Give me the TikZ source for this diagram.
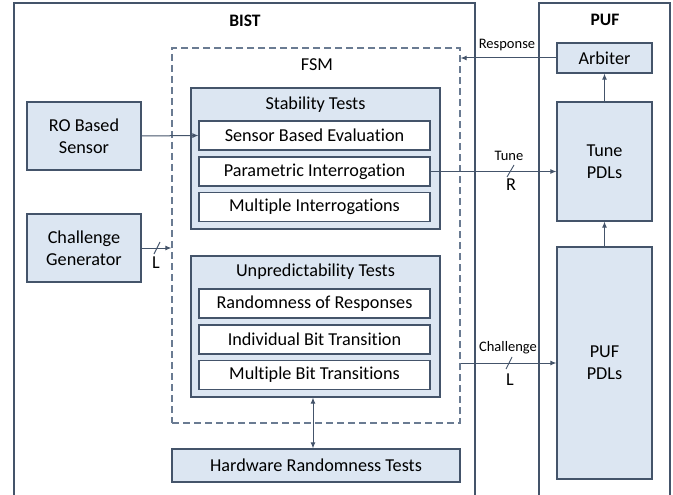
\documentclass[tikz,border=0pt]{standalone}
\usepackage{fontspec}
\setmainfont[Ligatures=NoCommon]{Carlito}
\usetikzlibrary{arrows.meta}
\definecolor{bfill}{HTML}{DCE6F2}
\definecolor{bline}{HTML}{44546A}
\definecolor{dline}{HTML}{6A7B92}
\begin{document}
\begin{tikzpicture}[x=1pt,y=-1pt,
  mainfont/.style={font=\fontsize{18.2}{22}\selectfont},
  smallfont/.style={font=\fontsize{14.5}{16}\selectfont},
  outer/.style={draw=bline,line width=2.4pt,rectangle,inner sep=0pt},
  group/.style={draw=bline,fill=bfill,line width=1.2pt,rectangle,inner sep=0pt},
  item/.style={draw=bline,fill=white,line width=1.2pt,rectangle,inner sep=0pt,mainfont,minimum width=231pt,minimum height=29pt},
  blk/.style={draw=bline,fill=bfill,line width=1.2pt,rectangle,inner sep=0pt,mainfont,align=center},
  dashbox/.style={draw=dline,line width=1.2pt,dash pattern=on 7pt off 4pt,rectangle,inner sep=0pt},
  arr/.style={draw=bline,line width=1pt,-{Latex[length=6pt,width=5pt]}},
  biarr/.style={draw=bline,line width=1pt,{Latex[length=6pt,width=5pt]}-{Latex[length=6pt,width=5pt]}},
  slash/.style={draw=bline,line width=0.9pt},
  lbl/.style={inner sep=0pt}]
\clip (0,0) rectangle (673,495);
\fill[white] (0,0) rectangle (673,495);
% outer boxes
\node[outer,minimum width=461pt,minimum height=507pt] (bist) at (244.5,256.5) {};
\node[lbl,font=\fontsize{17.5}{20}\selectfont\bfseries] (bistl) at (245,21) {BIST};
\node[outer,minimum width=131pt,minimum height=507pt] (puf) at (604.5,256.5) {};
\node[lbl,font=\fontsize{17.5}{20}\selectfont\bfseries] (pufl) at (605,20) {PUF};
% FSM
\node[dashbox,minimum width=288pt,minimum height=375pt] (fsm) at (316,235.5) {};
\node[lbl,mainfont] (fsml) at (317,65) {FSM};
% Stability
\node[group,minimum width=249pt,minimum height=141pt] (stab) at (315.5,158.5) {};
\node[lbl,mainfont] (stabl) at (315.5,105) {Stability Tests};
\node[item] (sbe) at (314.5,135.5) {Sensor Based Evaluation};
\node[item] (pi) at (314.5,171.5) {Parametric Interrogation};
\node[item] (mi) at (314.5,207) {Multiple Interrogations};
% Unpredictability
\node[group,minimum width=249pt,minimum height=141pt] (unp) at (315.5,326.5) {};
\node[lbl,mainfont] (unpl) at (315.5,272) {Unpredictability Tests};
\node[item] (rr) at (314.5,303.5) {Randomness of Responses};
\node[item] (ibt) at (314.5,339.5) {Individual Bit Transition};
\node[item] (mbt) at (314.5,375) {Multiple Bit Transitions};
% Hardware
\node[blk,minimum width=288pt,minimum height=33pt] (hw) at (316,465.5) {Hardware Randomness Tests};
% left blocks
\node[blk,minimum width=114pt,minimum height=68pt] (ro) at (84,136) {RO Based\\Sensor};
\node[blk,minimum width=114pt,minimum height=68pt] (cg) at (84,248) {Challenge\\Generator};
% PUF blocks
\node[blk,minimum width=95pt,minimum height=30pt] (arb) at (604.5,58) {Arbiter};
\node[blk,minimum width=95pt,minimum height=119pt] (tune) at (604.5,161.5) {Tune\\PDLs};
\node[blk,minimum width=95pt,minimum height=232pt] (pdl) at (604.5,363) {PUF\\PDLs};
% connectors
\draw[arr] (ro.east) -- (sbe.west);
\draw[arr] (cg.east) -- (cg.east -| fsm.west);
\draw[arr] (arb.west) -- (arb.west -| fsm.east);
\draw[arr] (pi.east) -- (pi.east -| tune.west);
\draw[arr] (pdl.west -| fsm.east) -- (pdl.west);
\draw[arr] (tune.north) -- (arb.south);
\draw[arr] (pdl.north) -- (tune.south);
\draw[biarr] ([xshift=-2.5pt]unp.south) -- ([xshift=-2.5pt]unp.south |- hw.north);
% labels and slashes
\node[lbl,smallfont] (resp) at (507,45) {Response};
\draw[slash] (154,254) -- (160,242);
\node[lbl,mainfont] (cgL) at (156,263) {L};
\node[lbl,smallfont] (tunel) at (509,156) {Tune};
\draw[slash] (507,177) -- (514,165);
\node[lbl,mainfont] (tuneR) at (511,185) {R};
\node[lbl,smallfont] (chl) at (508,348) {Challenge};
\draw[slash] (506,369) -- (512,357);
\node[lbl,mainfont] (chL) at (510,380) {L};
\end{tikzpicture}
\end{document}
